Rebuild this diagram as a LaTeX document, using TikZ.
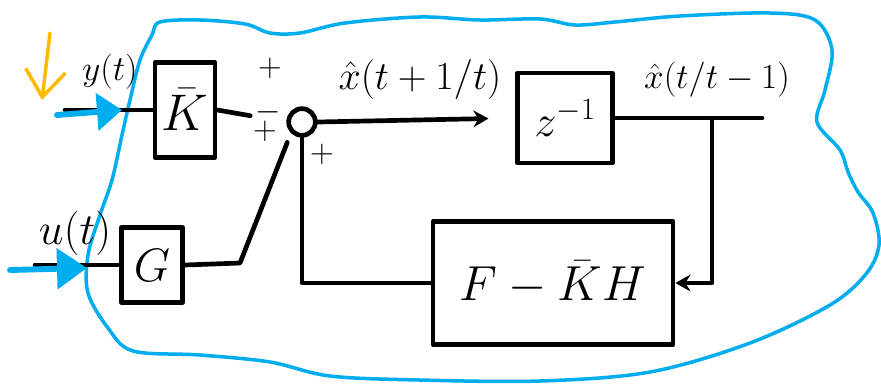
\RequirePackage{fix-cm}
\documentclass[tikz,border=0pt]{standalone}
\usepackage{amsmath}
\usepackage{tikz}
\usetikzlibrary{arrows.meta,positioning}
\definecolor{skyblue}{HTML}{00ADEF}
\definecolor{marker}{HTML}{FFBA00}

\begin{document}
\begin{tikzpicture}[x=0.03cm,y=-0.03cm,line width=4pt,line cap=round,line join=round,font=\fontsize{30}{36}\selectfont]
    \tikzstyle{b}=[draw,inner sep=0pt,align=center]
    \tikzstyle{sgn}=[inner sep=0pt,font=\fontsize{28}{32}\selectfont]
    \useasboundingbox (0,0) rectangle (881,383);
    % hand drawn boundary
    \draw[skyblue,line width=3pt] plot[smooth cycle,tension=0.55] coordinates {
      (160,22) (200,20) (245,24) (270,33) (300,33) (345,23) (420,17) (480,20)
      (540,19) (575,25) (615,22) (680,16) (770,13) (815,20) (832,50) (825,90)
      (817,122) (840,150) (848,172) (858,192) (873,213) (879,245) (866,274)
      (830,305) (750,343) (650,372) (540,381) (420,380) (330,376) (270,362)
      (200,355) (133,351) (108,328) (88,293) (88,255) (100,215) (112,180)
      (122,135) (130,100) (140,60) (152,35)};
    % blocks
    \node[b,minimum width=1.8cm,minimum height=2.85cm,
          font=\fontsize{44}{50}\selectfont]             (k) at (185,110) {$\bar{K}$};
    \node[draw,circle,minimum size=0.8cm,inner sep=0pt] (s) at (302,122) {};
    \node[b,minimum width=2.85cm,minimum height=2.7cm,
          font=\fontsize{38}{44}\selectfont]             (z) at (565,118) {$z^{-1}$};
    \node[b,minimum width=7.2cm,minimum height=3.7cm,
          font=\fontsize{42}{48}\selectfont]             (f) at (553,283) {$F-\bar{K}H$};
    \node[b,minimum width=1.83cm,minimum height=2.25cm,
          font=\fontsize{40}{46}\selectfont]             (g) at (152,265) {$G$};
    \coordinate (yin)  at (65,110);
    \coordinate (uin)  at (35,265);
    \coordinate (tap)  at (712,118);
    \coordinate (xend) at (762,118);
    \coordinate (fb)   at (302,283);
    \coordinate (gk)   at (240,263);
    % signals
    \draw (yin) -- (k.west);
    \draw (uin) -- (g.west);
    \draw[shorten >=1.1cm] (k.east) -- (s.west);
    \draw[-{Stealth[length=0.45cm,width=0.5cm]},shorten >=0.8cm] (s.east) -- (z.west);
    \draw (z.east) -- (xend);
    \draw[-{Stealth[length=0.45cm,width=0.5cm]}] (tap) |- (f.east);
    \draw (f.west) -- (fb) -- (s.south);
    \draw[shorten >=0.3cm] (g.east) -- (gk) -- (s.south west);
    % labels
    \node[font=\fontsize{34}{40}\selectfont] (lx1) at (420,80) {$\hat{x}(t+1/t)$};
    \node[font=\fontsize{30}{36}\selectfont] (lx2) at (717,80) {$\hat{x}(t/t-1)$};
    \node[font=\fontsize{30}{36}\selectfont] (ly) at (110,72) {$y(t)$};
    \node[font=\fontsize{38}{44}\selectfont] (lu) at (75,233) {$u(t)$};
    \node[sgn] (p1) at (270,68)  {$+$};
    \node[sgn] (p2) at (268,112) {$-$};
    \node[sgn] (p3) at (265,131) {$+$};
    \node[sgn] (p4) at (322,154) {$+$};
    % marker arrows
    \coordinate (ya) at (57,115);
    \coordinate (yb) at (122,110);
    \coordinate (ua) at (10,270);
    \coordinate (ub) at (87,268);
    \coordinate (oa) at (50,33);
    \coordinate (ob) at (42,100);
    \draw[skyblue,line width=5pt,-{Triangle[length=0.75cm,width=1.1cm]}] (ya) -- (yb);
    \draw[skyblue,line width=5pt,-{Triangle[length=0.9cm,width=1.2cm]}] (ua) -- (ub);
    \draw[marker,line width=3pt,-{Straight Barb[length=0.8cm,width=1.2cm]}] (oa) -- (ob);
  \end{tikzpicture}
\end{document}
